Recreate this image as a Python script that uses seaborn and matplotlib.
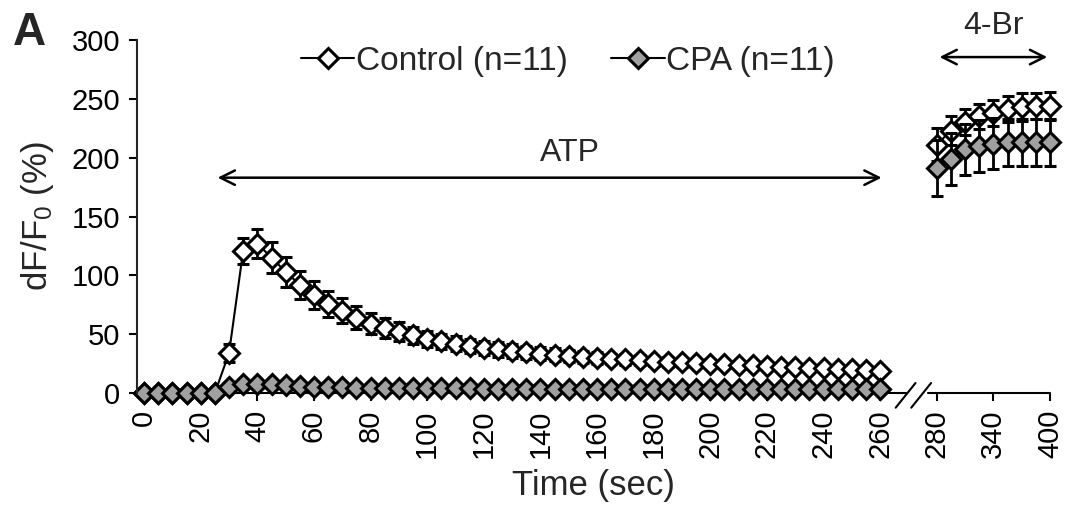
import numpy as np
import pandas as pd
import matplotlib
matplotlib.use('Agg')
import matplotlib.pyplot as plt
from matplotlib.lines import Line2D
import seaborn as sns


# time points (sec): 5 s steps during ATP, 15 s steps during 4-Br
time_atp = list(range(0, 265, 5))
time_br = list(range(280, 415, 15))

series_names = ['Control (n=11)', 'CPA (n=11)']

control_atp = [0, 0, 0, 0, 0, 0,
               34, 121, 127, 115, 103, 92, 83, 76, 70, 64,
               59, 55, 52, 49, 46, 44, 42, 40, 38.5, 37,
               36, 34.5, 33.5, 32.5, 31.5, 30.5, 30, 29, 28.5, 28,
               27, 26.5, 26, 25.5, 25, 24.5, 24, 23.5, 23, 22.5,
               22, 21.5, 21, 20.5, 20, 19.5, 19]
control_atp_sem = [0, 0, 0, 0, 0, 0,
                   8, 11, 12, 13, 13, 12, 12, 11, 10.5, 10,
                   9, 8.5, 8, 7.5, 7, 6.5, 6.5, 6, 6, 6,
                   6, 5.5, 5.5, 5.5, 5, 5, 5, 4.5, 4.5, 4,
                   4, 4, 3.5, 3.5, 3.5, 3, 3, 3, 3, 3,
                   3, 2.5, 2.5, 2.5, 2.5, 2.5, 2.5]

cpa_atp = [0, 0, 0, 0, 0, 0,
           5, 7.5, 8, 7.5, 6.5, 6, 5.5, 5, 5, 4.5,
           4.5, 4.5, 4, 4, 4, 4, 4, 4, 3.5, 3.5,
           3.5, 3.5, 3.5, 3.5, 3.5, 3.5, 3, 3, 3, 3,
           3, 3, 3, 3, 3, 3, 3, 3, 3, 3,
           3, 3, 3, 3, 3, 3, 3]
cpa_atp_sem = [0, 0, 0, 0, 0, 0] + [1.5] * 47

control_br = [211, 223, 230, 235, 238, 241, 243, 244, 244]
control_br_sem = [14, 12, 11, 11, 11, 11, 12, 11, 12]
cpa_br = [191, 199, 207, 210, 212, 213, 213, 213, 213]
cpa_br_sem = [24, 22, 22, 22, 22, 20, 20, 20, 20]

# category axis like the original: three empty slots at the break
gap = 3
pos_atp = list(range(len(time_atp)))
pos_br = [len(time_atp) + gap + i for i in range(len(time_br))]

rows = []
for name, vals, sems, seg, pos in [
        (series_names[0], control_atp, control_atp_sem, 'atp', pos_atp),
        (series_names[0], control_br, control_br_sem, 'br', pos_br),
        (series_names[1], cpa_atp, cpa_atp_sem, 'atp', pos_atp),
        (series_names[1], cpa_br, cpa_br_sem, 'br', pos_br)]:
    for p, v, s in zip(pos, vals, sems):
        rows.append({'group': name, 'segment': seg, 'pos': p, 'value': v, 'sem': s})
df = pd.DataFrame(rows)

sns.set_style('ticks')
plt.rcParams['font.family'] = ['Liberation Sans', 'DejaVu Sans']
plt.rcParams['mathtext.fontset'] = 'custom'
plt.rcParams['mathtext.rm'] = 'Liberation Sans'
plt.rcParams['mathtext.it'] = 'Liberation Sans:italic'

fig = plt.figure(figsize=(10.69, 5.21), dpi=100)
ax = fig.add_axes([0.1282, 0.2457, 0.854, 0.6775])

faces = {series_names[0]: 'white', series_names[1]: '#a0a0a0'}
marker_kw = dict(marker='D', markersize=10, markeredgecolor='black', markeredgewidth=2.2)

for name in series_names:
    sub = df[df['group'] == name]
    ax.errorbar(sub['pos'], sub['value'], yerr=sub['sem'], fmt='none',
                ecolor='black', elinewidth=2, capsize=4, capthick=2.2, clip_on=False)
    sns.lineplot(data=sub, x='pos', y='value', units='segment', estimator=None,
                 color='black', lw=1.5, markerfacecolor=faces[name],
                 clip_on=False, legend=False, ax=ax, **marker_kw)

ax.set_xlim(-0.5, pos_br[-1])
ax.set_ylim(0, 300)
ax.set_yticks(range(0, 301, 50))

all_pos = pos_atp + [len(time_atp) + i for i in range(gap)] + pos_br
all_time = time_atp + [None] * gap + time_br
tick_pos = all_pos[::4]
ax.set_xticks(tick_pos)
ax.set_xticklabels([str(all_time[all_pos.index(p)]) for p in tick_pos], rotation=90)

ax.tick_params(axis='both', direction='out', length=6, width=1.5, labelsize=21, colors='black')
ax.tick_params(axis='y', pad=6)
ax.tick_params(axis='x', pad=6)
sns.despine(ax=ax)
ax.spines['left'].set_linewidth(1.5)
ax.spines['bottom'].set_visible(False)

# x axis drawn in two pieces with a // break
ax.plot([-0.5, 53.8], [0, 0], color='black', lw=1.5, clip_on=False, zorder=1)
ax.plot([55.4, pos_br[-1]], [0, 0], color='black', lw=1.5, clip_on=False, zorder=1)
for x0 in [53.1, 54.2]:
    ax.plot([x0, x0 + 1.4], [-12.5, 8.5], color='black', lw=1.5, clip_on=False)

ax.set_xlabel('Time (sec)', fontsize=25, labelpad=8)
ax.set_ylabel('dF/F$_0$ (%)', fontsize=25, labelpad=11)

# stimulus bars
ax.annotate('', xy=(52.3, 183), xytext=(5.0, 183),
            arrowprops=dict(arrowstyle='<->', lw=1.8, mutation_scale=26, color='black'))
ax.text(30.1, 204, 'ATP', ha='center', va='center', fontsize=23)
ax.annotate('', xy=(64.0, 285.5), xytext=(56.0, 285.5), annotation_clip=False,
            arrowprops=dict(arrowstyle='<->', lw=1.8, mutation_scale=26, color='black'))
ax.text(60.0, 312, '4-Br', ha='center', va='center', fontsize=23)

handles = [Line2D([], [], color='black', lw=1.5, markerfacecolor=faces[n], **marker_kw)
           for n in series_names]
ax.legend(handles, series_names, loc='center', bbox_to_anchor=(0.472, 0.94), ncol=2,
          frameon=False, fontsize=24, handlelength=1.6, handletextpad=0.05,
          columnspacing=1.3)

fig.text(13 / 1069, 1 - 45 / 521, 'A', fontsize=33, fontweight='bold', ha='left', va='baseline')

fig.savefig('out.png', dpi=100)
